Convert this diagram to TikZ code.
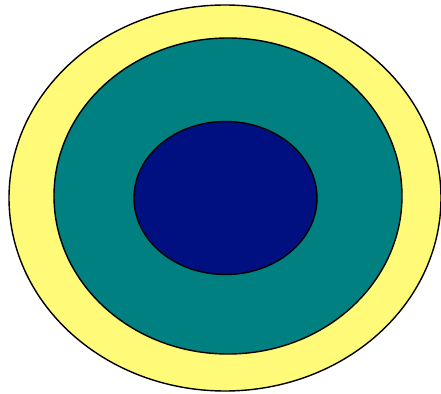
\documentclass[tikz,border=0pt]{standalone}
\definecolor{ringyellow}{RGB}{255,250,120}
\definecolor{ringteal}{RGB}{0,128,128}
\definecolor{ringnavy}{RGB}{0,16,128}
\begin{document}
\begin{tikzpicture}[x=0.025cm,y=-0.025cm]
\useasboundingbox (0,0) rectangle (441,394);
\draw[line width=1pt, fill=ringyellow] (225,198) ellipse[x radius=216, y radius=193];
\draw[line width=1pt, fill=ringteal] (228,196) ellipse[x radius=174, y radius=158];
\draw[line width=1pt, fill=ringnavy] (225.5,198) ellipse[x radius=91.5, y radius=76.5];
\end{tikzpicture}
\end{document}
